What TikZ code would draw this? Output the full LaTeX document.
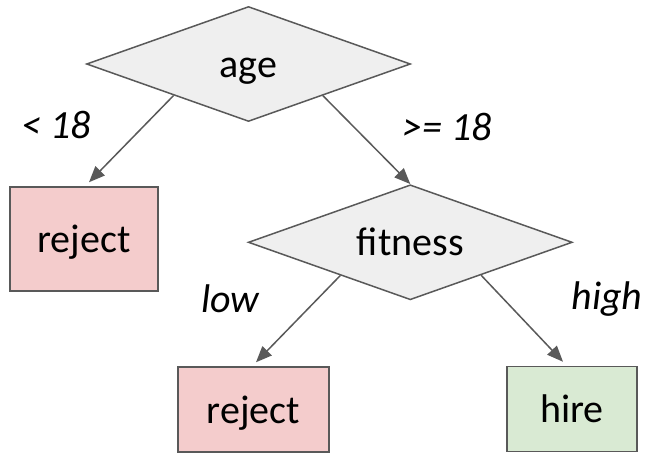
\documentclass[tikz,border=0pt]{standalone}
\usepackage{fontspec}
\setmainfont{Carlito}
\usetikzlibrary{shapes.geometric,arrows.meta,calc}
\definecolor{edgegray}{HTML}{595959}
\definecolor{decfill}{HTML}{EFEFEF}
\definecolor{rejfill}{HTML}{F4CCCC}
\definecolor{hirefill}{HTML}{D9EAD3}
\tikzset{
  base/.style={inner sep=0pt, text height=29pt, text depth=2pt, font=\fontsize{40}{44}\selectfont,
               draw=edgegray, line width=1.5pt},
  decision/.style={base, diamond, aspect=3, fill=decfill, minimum width=324pt, minimum height=115pt},
  leafbox/.style={base, rectangle},
  reject/.style={leafbox, fill=rejfill},
  hire/.style={leafbox, fill=hirefill},
  conn/.style={draw=edgegray, line width=1.5pt, -{Triangle[length=16pt,width=13pt]}},
  lbl/.style={inner sep=0pt, anchor=base, font=\fontsize{40}{44}\selectfont\itshape}
}
\begin{document}
\begin{tikzpicture}[x=1pt,y=-1pt]
\useasboundingbox (0,0) rectangle (646,453);
\node[decision] (age) at (248.5,64) {age};
\node[decision] (fit) at (410.3,242.3) {fitness};
\node[reject, minimum width=148pt, minimum height=104pt] (rej1) at (84,239) {reject};
\node[reject, minimum width=151pt, minimum height=85pt] (rej2) at (253.5,409.5) {reject};
\node[hire, minimum width=130pt, minimum height=85pt] (hire) at (572,409) {hire};

\draw[conn] ($(age.west)!0.54!(age.south)$) -- ($(rej1.north)+(5,-4)$);
\draw[conn] ($(age.south)!0.457!(age.east)$) -- (fit.north);
\draw[conn] ($(fit.west)!0.57!(fit.south)$) -- ($(rej2.north)+(2.5,-4)$);
\draw[conn] ($(fit.south)!0.435!(fit.east)$) -- ($(hire.north)+(-9,-4)$);

\node[lbl] (l1) at (56,138) {< 18};
\node[lbl] (l2) at (447.5,140) {>= 18};
\node[lbl] (l3) at (230.5,312) {low};
\node[lbl] (l4) at (607,309) {high};
\end{tikzpicture}
\end{document}
